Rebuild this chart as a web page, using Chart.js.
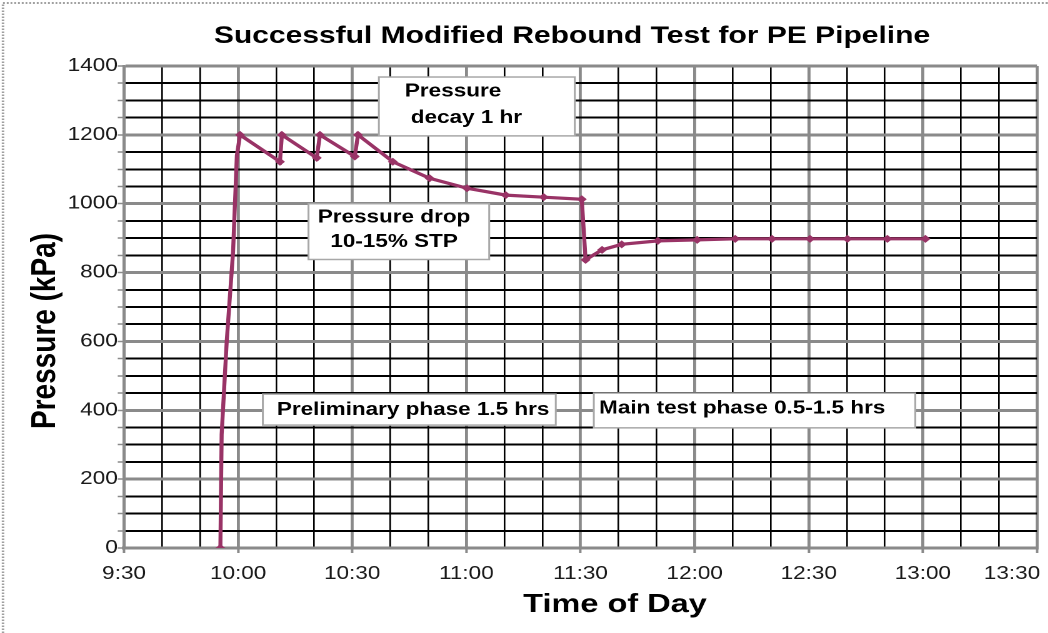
<!DOCTYPE html>
<html>
<head>
<meta charset="utf-8">
<script src="https://cdn.jsdelivr.net/npm/chart.js@4.4.1/dist/chart.umd.min.js"></script>
<style>
  html, body { margin: 0; padding: 0; background: #fff; overflow: hidden; }
  /* the reference picture is stretched sideways, so the whole canvas is too */
  #wrap { width: 838px; height: 633px; transform: scaleX(1.25); transform-origin: 0 0; }
</style>
</head>
<body>
<div id="wrap"><canvas id="chart" width="838" height="633"></canvas></div>
<script>
// readings: clock time and pressure (kPa)
const times = ['9:55:20', '9:55:40', '9:57:00', '9:58:40', '9:59:40', '10:00:30',
  '10:11:00', '10:11:30', '10:20:40', '10:21:30', '10:30:40', '10:31:30',
  '10:40:40', '10:50:20', '11:00:10', '11:10:20', '11:20:20', '11:30:20',
  '11:31:20', '11:35:40', '11:40:50', '11:50:20', '12:00:40', '12:10:40',
  '12:20:20', '12:30:20', '12:40:10', '12:50:40', '13:00:40'];
const pressure = [0, 330, 600, 860, 1140, 1200,
  1122, 1200, 1133, 1200, 1137, 1200,
  1122, 1074, 1045, 1025, 1019, 1013,
  837, 866, 882, 892, 895, 898,
  898, 898, 898, 898, 898];
const rampPoints = 5; // fill-up points drawn without a marker

const xTickLabels = ['9:30', '10:00', '10:30', '11:00', '11:30', '12:00', '12:30', '13:00', '13:30'];
const yTickLabels = [0, 200, 400, 600, 800, 1000, 1200, 1400];

const chartTitle = 'Successful Modified Rebound Test for PE Pipeline';
const xTitle = 'Time of Day';
const yTitle = 'Pressure (kPa)';

// text boxes, placed in data units: [from, to] time, [low, high] kPa
const notes = [
  { box: ['10:37', '11:28:30', 1197, 1368], lines: [['Pressure', '10:56:30', 1326], ['decay 1 hr', '11:00', 1249]] },
  { box: ['10:18:30', '11:06', 838, 1000], lines: [['Pressure drop', '10:41', 960], ['10-15% STP', '10:41', 889]] },
  { box: ['10:06:30', '11:23:30', 357, 447], lines: [['Preliminary phase 1.5 hrs', '10:46', 401]] },
  { box: ['11:33:30', '12:58', 349, 450], lines: [['Main test phase 0.5-1.5 hrs', '12:12:30', 405]] }
];

function toMin(s) {
  const p = s.split(':').map(Number);
  return p[0] * 60 + p[1] + (p[2] || 0) / 60;
}

const FONT = '"Liberation Sans", Arial, sans-serif';
const GREY = '#8a8a8a';
const PLUM = '#993366';

const decor = {
  id: 'decor',
  beforeDraw(chart) {
    const { ctx, width, height } = chart;
    ctx.save();
    ctx.fillStyle = '#fff';
    ctx.fillRect(0, 0, width, height);
    ctx.strokeStyle = '#a0a0a0';
    ctx.lineWidth = 2;
    ctx.setLineDash([1.5, 1.5]);
    ctx.beginPath();
    ctx.moveTo(2.4, height);
    ctx.lineTo(2.4, 3);
    ctx.lineTo(width, 3);
    ctx.stroke();
    ctx.restore();
  },
  afterDraw(chart) {
    const { ctx } = chart;
    const xs = chart.scales.x, ys = chart.scales.y;
    ctx.save();
    ctx.fillStyle = '#000';
    ctx.textAlign = 'center';

    ctx.textBaseline = 'alphabetic';
    ctx.font = 'bold 24px ' + FONT;
    ctx.fillText(chartTitle, 457.6, 43);
    ctx.font = 'bold 26px ' + FONT;
    ctx.fillText(xTitle, 492, 612);
    ctx.save();
    ctx.translate(44, 331);
    ctx.rotate(-Math.PI / 2);
    ctx.font = 'bold 28px ' + FONT;
    ctx.fillText(yTitle, 0, 0);
    ctx.restore();

    notes.forEach((n) => {
      const x0 = xs.getPixelForValue(toMin(n.box[0]));
      const x1 = xs.getPixelForValue(toMin(n.box[1]));
      const y0 = ys.getPixelForValue(n.box[3]);
      const y1 = ys.getPixelForValue(n.box[2]);
      ctx.fillStyle = '#fff';
      ctx.fillRect(x0, y0, x1 - x0, y1 - y0);
      ctx.strokeStyle = '#a8a8a8';
      ctx.lineWidth = 1.5;
      ctx.strokeRect(x0, y0, x1 - x0, y1 - y0);
      ctx.fillStyle = '#000';
      ctx.font = 'bold 18px ' + FONT;
      ctx.textBaseline = 'middle';
      n.lines.forEach((l) => {
        ctx.fillText(l[0], xs.getPixelForValue(toMin(l[1])), ys.getPixelForValue(l[2]));
      });
    });
    ctx.restore();
  }
};

new Chart(document.getElementById('chart'), {
  type: 'line',
  data: {
    datasets: [{
      data: times.map((t, i) => ({ x: toMin(t), y: pressure[i] })),
      borderColor: PLUM,
      backgroundColor: PLUM,
      borderWidth: 3.2,
      pointStyle: 'rectRot',
      pointRadius: (c) => (c.dataIndex > 0 && c.dataIndex < rampPoints) ? 0 : 4,
      pointBorderWidth: 0,
      tension: 0,
      fill: false
    }]
  },
  options: {
    responsive: false,
    animation: false,
    devicePixelRatio: 2,
    layout: { padding: { top: 66, right: 8.4, left: 0, bottom: 0 } },
    plugins: {
      legend: { display: false },
      tooltip: { enabled: false }
    },
    scales: {
      x: {
        type: 'linear',
        min: toMin(xTickLabels[0]),
        max: toMin(xTickLabels[xTickLabels.length - 1]),
        afterFit: (s) => { s.height = 85; s.paddingLeft = 0; s.paddingRight = 0; },
        grid: {
          color: (c) => c.tick.value % 30 === 0 ? GREY : '#000',
          lineWidth: (c) => c.tick.value % 30 === 0 ? 2.4 : 1.3,
          tickColor: (c) => c.tick.value % 30 === 0 ? GREY : 'rgba(0,0,0,0)',
          tickLength: 5,
          tickWidth: 2
        },
        border: { color: GREY, width: 3 },
        ticks: {
          stepSize: 10,
          maxTicksLimit: 100,
          autoSkip: false,
          maxRotation: 0,
          padding: 10,
          color: '#1a1a1a',
          font: { family: FONT, size: 18 },
          callback: (v) => {
            const i = xTickLabels.findIndex((l) => Math.abs(toMin(l) - v) < 1e-6);
            if (i < 0) return '';
            // last label is pulled in so it stays inside the picture
            return i === xTickLabels.length - 1 ? xTickLabels[i] + '\u2007\u2007\u2007\u2007' : xTickLabels[i];
          }
        }
      },
      y: {
        min: 0,
        max: 1400,
        afterFit: (s) => { s.width = 99.2; },
        grid: {
          color: (c) => c.tick.value % 200 === 0 ? GREY : '#000',
          lineWidth: (c) => c.tick.value % 200 === 0 ? 3 : 2,
          tickColor: GREY,
          tickLength: 5,
          tickWidth: 1.5
        },
        border: { color: GREY, width: 2.4 },
        ticks: {
          stepSize: 50,
          maxTicksLimit: 100,
          autoSkip: false,
          padding: 0,
          color: '#1a1a1a',
          font: { family: FONT, size: 18 },
          callback: (v) => yTickLabels.includes(v) ? String(v) : ''
        }
      }
    }
  },
  plugins: [decor]
});
</script>
</body>
</html>
